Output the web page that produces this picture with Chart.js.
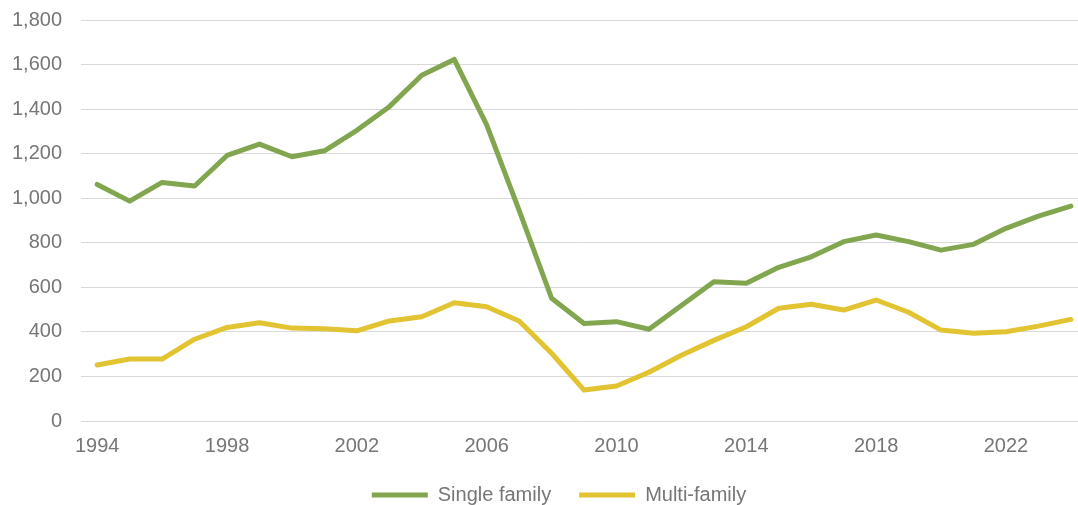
<!DOCTYPE html>
<html>
<head>
<meta charset="utf-8">
<script src="https://cdn.jsdelivr.net/npm/chart.js@4/dist/chart.umd.min.js"></script>
<style>
  html, body { margin: 0; padding: 0; background: #fff; overflow: hidden; width: 1078px; height: 505px; }
  #wrap { position: relative; width: 1078px; height: 515px; }
</style>
</head>
<body>
<div id="wrap"><canvas id="myChart"></canvas></div>
<script>
const years = [1994, 1995, 1996, 1997, 1998, 1999, 2000, 2001, 2002, 2003, 2004, 2005, 2006, 2007, 2008,
  2009, 2010, 2011, 2012, 2013, 2014, 2015, 2016, 2017, 2018, 2019, 2020, 2021, 2022, 2023, 2024];
const singleFamily = [1062, 987, 1071, 1055, 1192, 1243, 1186, 1213, 1305, 1411, 1552, 1623, 1329, 945, 551,
  438, 446, 412, 518, 625, 618, 690, 737, 805, 835, 805, 767, 793, 865, 920, 965];
const multiFamily = [251, 278, 278, 367, 420, 441, 417, 414, 405, 449, 468, 531, 513, 449, 304,
  139, 157, 219, 295, 362, 423, 506, 524, 498, 543, 488, 408, 394, 401, 426, 456];
const xTickYears = [1994, 1998, 2002, 2006, 2010, 2014, 2018, 2022];
const seriesNames = ['Single family', 'Multi-family'];

// nudge the legend right a bit, the original is not centred on the canvas
const legendShift = {
  id: 'legendShift',
  afterLayout(chart) {
    if (chart.legend) {
      chart.legend.left += 20;
      chart.legend.right += 20;
    }
  }
};

function myLoadFunction() {
  const ctx = document.getElementById('myChart').getContext('2d');
  const grey = '#767676';
  const font = { family: '"Liberation Sans", Arial, sans-serif', size: 20 };

  const lineStyle = {
    borderWidth: 5,
    pointRadius: 0,
    pointHoverRadius: 0,
    tension: 0,
    borderJoinStyle: 'round',
    borderCapStyle: 'round',
    fill: false
  };

  var config = {
    type: 'line',
    data: {
      datasets: [
        Object.assign({
          label: seriesNames[0],
          data: years.map((y, i) => ({ x: y, y: singleFamily[i] })),
          borderColor: '#81A64F',
          backgroundColor: '#81A64F'
        }, lineStyle),
        Object.assign({
          label: seriesNames[1],
          data: years.map((y, i) => ({ x: y, y: multiFamily[i] })),
          borderColor: '#E2C332',
          backgroundColor: '#E2C332'
        }, lineStyle)
      ]
    },
    options: {
      responsive: true,
      maintainAspectRatio: false,
      animation: false,
      layout: { padding: { top: 20, left: 0, right: 0, bottom: 0 } },
      plugins: {
        tooltip: { enabled: false },
        legend: {
          position: 'bottom',
          labels: {
            usePointStyle: true,
            pointStyle: 'line',
            pointStyleWidth: 56,
            padding: 28,
            color: grey,
            font: font
          }
        }
      },
      scales: {
        x: {
          type: 'linear',
          min: 1993.5,
          max: 2024.22,
          grid: { display: false, drawTicks: false },
          border: { display: false },
          afterBuildTicks: function (scale) {
            scale.ticks = xTickYears.map(v => ({ value: v }));
          },
          afterFit: function (scale) { scale.height = 36; },
          ticks: {
            color: grey,
            font: font,
            padding: 13,
            maxRotation: 0,
            autoSkip: false,
            callback: v => String(v)
          }
        },
        y: {
          min: 0,
          max: 1800,
          // invisible tick marks give the gap between labels and plot
          grid: { color: '#d9d9d9', lineWidth: 1, drawTicks: true, tickLength: 19, tickColor: 'rgba(0,0,0,0)' },
          border: { display: false },
          afterFit: function (scale) { scale.width = 81; },
          ticks: {
            stepSize: 200,
            color: grey,
            font: font,
            padding: 0,
            callback: v => v.toLocaleString('en-US')
          }
        }
      }
    },
    plugins: [legendShift]
  };

  const myChart = new Chart(ctx, config);
}

document.addEventListener('DOMContentLoaded', myLoadFunction);
</script>
</body>
</html>
